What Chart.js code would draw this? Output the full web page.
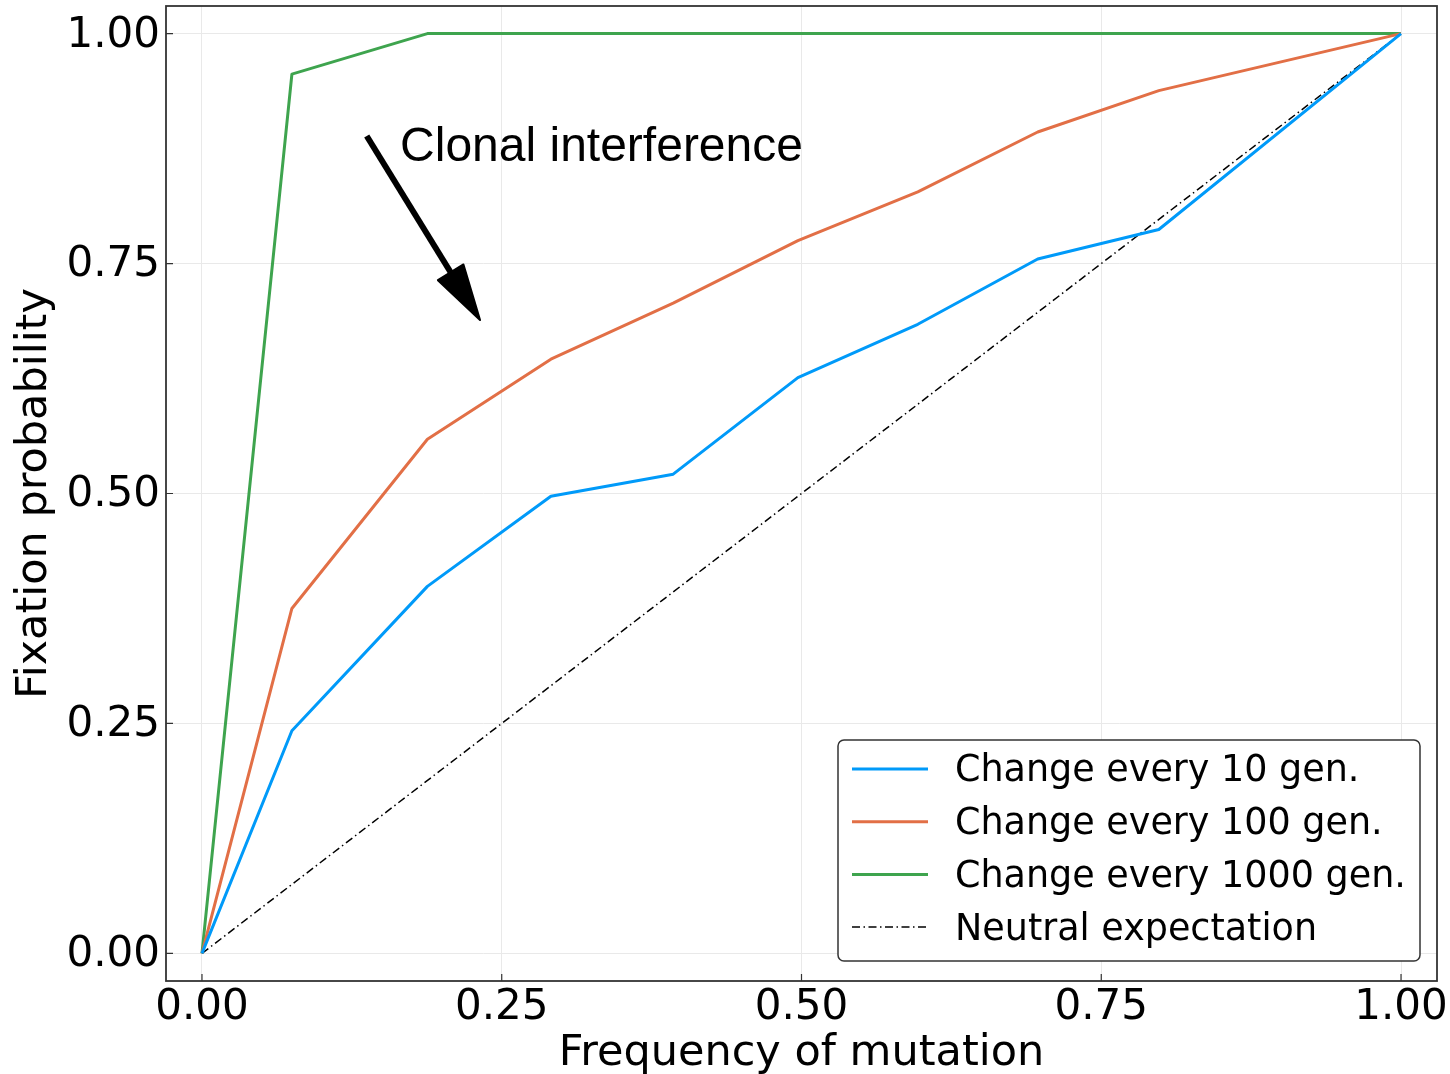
<!DOCTYPE html>
<html>
<head>
<meta charset="utf-8">
<script src="https://cdn.jsdelivr.net/npm/chart.js@4.4.0/dist/chart.umd.min.js"></script>
<style>
  html, body { margin: 0; padding: 0; background: #fff; }
  #wrap { width: 1450px; height: 1074px; }
</style>
</head>
<body>
<div id="wrap"><canvas id="fixChart" width="1450" height="1074"></canvas></div>
<script>
// Frequency of the mutation (x axis)
const freq = [0, 0.075, 0.188, 0.291, 0.393, 0.497, 0.597, 0.697, 0.798, 1.0];

// Fixation probability for each regime
const every10 = [0, 0.242, 0.399, 0.497, 0.521, 0.626, 0.684, 0.755, 0.787, 1.0];
const every100 = [0, 0.375, 0.559, 0.646, 0.707, 0.775, 0.828, 0.893, 0.938, 1.0];
const every1000 = [0, 0.956, 1.0, 1.0, 1.0, 1.0, 1.0, 1.0, 1.0, 1.0];

// Neutral expectation (diagonal)
const neutralX = [0, 1];
const neutralY = [0, 1];

const tickValues = [0, 0.25, 0.5, 0.75, 1.0];
const seriesLabels = ["Change every 10 gen.", "Change every 100 gen.", "Change every 1000 gen.", "Neutral expectation"];
const noteText = "Clonal interference";

const toPoints = (xs, ys) => xs.map((x, i) => ({ x: x, y: ys[i] }));

// Frame, inner ticks, legend box and the arrow note
const extras = {
    id: "extras",
    afterDraw(chart) {
        const ctx = chart.ctx;
        const a = chart.chartArea;
        const xs = chart.scales.x, ys = chart.scales.y;
        ctx.save();

        // frame + ticks
        ctx.strokeStyle = "#333";
        ctx.lineWidth = 1.8;
        ctx.strokeRect(a.left, a.top, a.right - a.left, a.bottom - a.top);
        ctx.lineWidth = 1.2;
        ctx.beginPath();
        tickValues.forEach(v => {
            const px = xs.getPixelForValue(v);
            ctx.moveTo(px, a.bottom); ctx.lineTo(px, a.bottom - 7);
            const py = ys.getPixelForValue(v);
            ctx.moveTo(a.left, py); ctx.lineTo(a.left + 7, py);
        });
        ctx.stroke();

        // legend
        const bx = a.right - 599, by = a.bottom - 241, bw = 582, bh = 221;
        ctx.beginPath();
        ctx.roundRect(bx, by, bw, bh, 6);
        ctx.fillStyle = "#fff";
        ctx.fill();
        ctx.strokeStyle = "#333";
        ctx.lineWidth = 1.5;
        ctx.stroke();
        ctx.font = '36.5px "DejaVu Sans"';
        ctx.textBaseline = "middle";
        ctx.textAlign = "left";
        chart.data.datasets.forEach((ds, i) => {
            const ry = by + 29 + i * 52.7;
            ctx.beginPath();
            ctx.setLineDash(ds.borderDash || []);
            ctx.strokeStyle = ds.borderColor;
            ctx.lineWidth = ds.borderWidth;
            ctx.moveTo(bx + 14, ry); ctx.lineTo(bx + 90, ry);
            ctx.stroke();
            ctx.setLineDash([]);
            ctx.fillStyle = "#000";
            ctx.fillText(ds.label, bx + 117, ry + 3);
        });

        // arrow
        const x0 = xs.getPixelForValue(0.1374), y0 = ys.getPixelForValue(0.8887);
        const x1 = xs.getPixelForValue(0.2319), y1 = ys.getPixelForValue(0.6886);
        const ang = Math.atan2(y1 - y0, x1 - x0);
        const headLen = 56, headHalf = 15;
        const bxh = x1 - headLen * Math.cos(ang), byh = y1 - headLen * Math.sin(ang);
        ctx.strokeStyle = "#000";
        ctx.fillStyle = "#000";
        ctx.lineWidth = 6;
        ctx.beginPath();
        ctx.moveTo(x0, y0); ctx.lineTo(bxh + 4 * Math.cos(ang), byh + 4 * Math.sin(ang));
        ctx.stroke();
        ctx.beginPath();
        ctx.lineJoin = "round";
        ctx.lineWidth = 2;
        ctx.moveTo(x1, y1);
        ctx.lineTo(bxh + headHalf * Math.sin(ang), byh - headHalf * Math.cos(ang));
        ctx.lineTo(bxh - headHalf * Math.sin(ang), byh + headHalf * Math.cos(ang));
        ctx.closePath();
        ctx.fill();
        ctx.stroke();

        // note text
        ctx.font = '48px "Liberation Sans"';
        ctx.textBaseline = "alphabetic";
        ctx.fillText(noteText, xs.getPixelForValue(0.1652), ys.getPixelForValue(0.8615));
        ctx.restore();
    }
};

const tickFont = { family: "DejaVu Sans", size: 42 };
const titleFont = { family: "DejaVu Sans", size: 43, lineHeight: 0.96 };

new Chart(document.getElementById("fixChart").getContext("2d"), {
    type: "line",
    data: {
        datasets: [
            { label: seriesLabels[0], data: toPoints(freq, every10), borderColor: "#009AF9", borderWidth: 3 },
            { label: seriesLabels[1], data: toPoints(freq, every100), borderColor: "#E26F46", borderWidth: 3 },
            { label: seriesLabels[2], data: toPoints(freq, every1000), borderColor: "#3EA44E", borderWidth: 3 },
            { label: seriesLabels[3], data: toPoints(neutralX, neutralY), borderColor: "#000", borderWidth: 1.5, borderDash: [8, 3.5, 1.5, 3.5] }
        ]
    },
    options: {
        responsive: false,
        animation: false,
        devicePixelRatio: 1,
        layout: { padding: { top: 6, right: 13, bottom: 0, left: 0 } },
        elements: {
            point: { radius: 0, hoverRadius: 0 },
            line: { tension: 0, borderJoinStyle: "round", fill: false }
        },
        plugins: { legend: { display: false }, tooltip: { enabled: false } },
        scales: {
            x: {
                type: "linear", min: -0.03, max: 1.03,
                afterBuildTicks: s => { s.ticks = tickValues.map(v => ({ value: v })); },
                ticks: { callback: v => v.toFixed(2), font: tickFont, color: "#000", padding: 2, maxRotation: 0, autoSkip: false },
                grid: { color: "#e9e9e9", lineWidth: 1, drawTicks: false },
                border: { display: false },
                title: { display: true, text: "Frequency of mutation", font: titleFont, color: "#000", padding: { top: 0, bottom: 0 } },
                afterFit: s => { s.height = 93; s.paddingLeft = 0; s.paddingRight = 0; }
            },
            y: {
                type: "linear", min: -0.03, max: 1.03,
                afterBuildTicks: s => { s.ticks = tickValues.map(v => ({ value: v })); },
                ticks: { callback: v => v.toFixed(2), font: tickFont, color: "#000", padding: 6, labelOffset: 2, autoSkip: false },
                grid: { color: "#e9e9e9", lineWidth: 1, drawTicks: false },
                border: { display: false },
                title: { display: true, text: "Fixation probability", font: titleFont, color: "#000", padding: { top: 14, bottom: 0 } },
                afterFit: s => { s.width = 166; s.paddingTop = 0; s.paddingBottom = 0; }
            }
        }
    },
    plugins: [extras]
});
</script>
</body>
</html>
